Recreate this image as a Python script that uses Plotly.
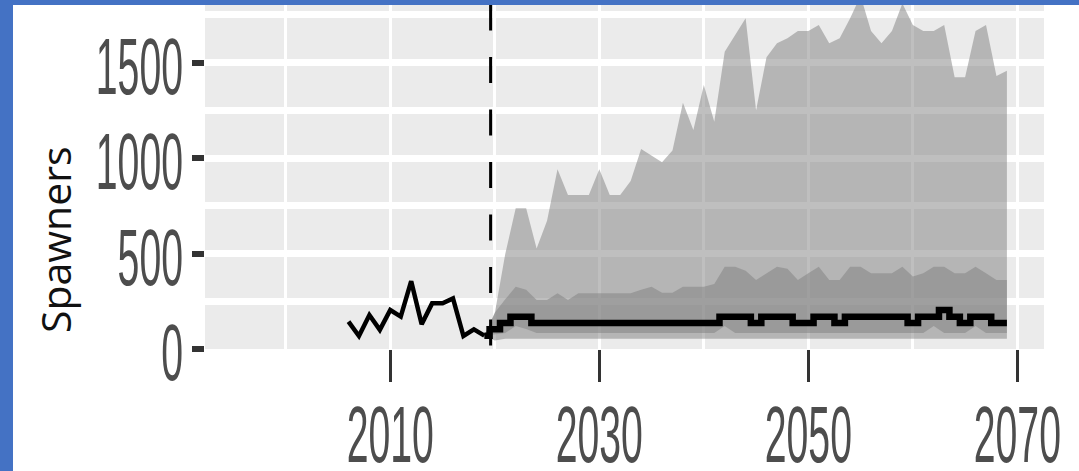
import plotly.graph_objects as go

# observed spawners
hist_years = [2006, 2007, 2008, 2009, 2010, 2011, 2012, 2013, 2014, 2015, 2016, 2017, 2018, 2019]
hist_spawners = [143, 68, 178, 100, 204, 170, 355, 130, 239, 239, 265, 68, 103, 70]

# projection (starts at last observed year)
proj_years = list(range(2019, 2070))
median = [70, 103, 136, 169, 169, 136, 136, 136, 136, 136, 136, 136, 136, 136, 136, 136, 136, 136,
          136, 136, 136, 136, 136, 169, 169, 169, 136, 169, 169, 169, 136, 136, 169, 169, 136, 169,
          169, 169, 169, 169, 169, 136, 169, 169, 204, 169, 136, 169, 169, 136, 136]
outer_hi = [70, 187, 498, 737, 737, 527, 672, 941, 807, 807, 807, 941, 807, 807, 880, 1048, 1011,
            978, 1040, 1290, 1147, 1383, 1190, 1557, 1645, 1732, 1250, 1528, 1601, 1627, 1666, 1666,
            1697, 1601, 1627, 1732, 1850, 1666, 1601, 1666, 1810, 1697, 1666, 1666, 1697, 1423, 1423,
            1666, 1697, 1430, 1458]
outer_lo = [70, 45, 54, 54, 54, 54, 54, 54, 54, 54, 54, 54, 54, 54, 54, 54, 54, 54, 54, 54, 54, 54,
            54, 54, 54, 54, 54, 54, 54, 54, 54, 54, 54, 54, 54, 54, 54, 54, 54, 54, 54, 54, 54, 54,
            54, 54, 54, 54, 54, 54, 54]
inner_hi = [70, 190, 260, 326, 310, 257, 257, 292, 257, 292, 292, 292, 292, 292, 292, 310, 326, 295,
            295, 326, 326, 326, 340, 431, 431, 410, 361, 397, 431, 420, 361, 397, 431, 361, 361, 431,
            431, 397, 397, 397, 431, 380, 397, 431, 431, 397, 397, 431, 397, 361, 361]
inner_lo = [70, 75, 84, 120, 105, 84, 84, 84, 84, 84, 84, 84, 84, 84, 84, 84, 84, 84, 84, 84, 84, 84,
            84, 120, 84, 84, 84, 84, 84, 84, 84, 84, 84, 84, 84, 84, 84, 84, 84, 84, 84, 84, 84, 120,
            84, 84, 84, 120, 84, 84, 84]

vline_year = 2019.6
x_ticks = [2010, 2030, 2050, 2070]
y_ticks = [0, 500, 1000, 1500]

W, H = 1079, 471
L, R, T, B = 205, 35, 0, 122
pw, ph = W - L - R, H - T - B


def px_x(p):
    return (p - L) / pw


def px_y(q):
    return 1 - (q - T) / ph


band = 'rgba(127,127,127,0.5)'
fig = go.Figure()

fig.add_trace(go.Scatter(x=proj_years + proj_years[::-1], y=outer_hi + outer_lo[::-1],
                         fill='toself', fillcolor=band, mode='lines', line=dict(width=0),
                         hoverinfo='skip'))
fig.add_trace(go.Scatter(x=proj_years + proj_years[::-1], y=inner_hi + inner_lo[::-1],
                         fill='toself', fillcolor=band, mode='lines', line=dict(width=0),
                         hoverinfo='skip'))
fig.add_trace(go.Scatter(x=proj_years, y=median, mode='lines',
                         line=dict(color='black', width=6.5, shape='hvh')))
fig.add_trace(go.Scatter(x=hist_years, y=hist_spawners, mode='lines',
                         line=dict(color='black', width=4.5)))

tickfont = dict(family='Liberation Sans', size=80, color='#4d4d4d')

fig.update_layout(
    width=W, height=H,
    margin=dict(l=L, r=R, t=T, b=B, autoexpand=False),
    paper_bgcolor='white',
    plot_bgcolor='#ebebeb',
    showlegend=False,
    xaxis=dict(
        range=[1992.27, 2072.55],
        tickmode='array', tickvals=x_ticks, ticktext=[str(v) for v in x_ticks],
        ticks='outside', ticklen=32, tickwidth=3, tickcolor='#333333',
        tickfont=tickfont, ticklabelstandoff=-16, ticklabeloverflow='allow',
        showgrid=True, gridcolor='white', gridwidth=3,
        minor=dict(tickmode='array', tickvals=[2000, 2020, 2040, 2060],
                   showgrid=True, gridcolor='white', gridwidth=3),
        zeroline=False, showline=False,
    ),
    yaxis=dict(
        range=[0, 1828],
        tickmode='array', tickvals=y_ticks, ticktext=[str(v) for v in y_ticks],
        ticks='outside', ticklen=12, tickwidth=6, tickcolor='#333333',
        tickfont=tickfont, ticklabelstandoff=-7, ticklabelshift=3,
        ticklabeloverflow='allow',
        showgrid=True, gridcolor='white', gridwidth=7,
        minor=dict(tickmode='array', tickvals=[250, 750, 1250, 1750],
                   showgrid=True, gridcolor='white', gridwidth=7),
        zeroline=False, showline=False,
    ),
)

# projection start marker
fig.add_shape(type='line', xref='x', yref='paper', x0=vline_year, x1=vline_year,
              y0=px_y(4.5), y1=0, line=dict(color='black', width=3, dash='26px,26.5px'),
              layer='above')

# slide frame
frame = '#4472c4'
fig.add_shape(type='rect', xref='paper', yref='paper', x0=px_x(0), x1=px_x(13),
              y0=px_y(H), y1=px_y(0), fillcolor=frame, line=dict(width=0), layer='above')
fig.add_shape(type='rect', xref='paper', yref='paper', x0=px_x(0), x1=px_x(W),
              y0=px_y(5), y1=px_y(0), fillcolor=frame, line=dict(width=0), layer='above')

fig.add_annotation(xref='paper', yref='paper', x=px_x(55), y=px_y(240), text='Spawners',
                   textangle=-90, showarrow=False, xanchor='center', yanchor='middle',
                   font=dict(family='Open Sans', size=41, color='#111111'))

# the tick labels in the source are horizontally squeezed
squeeze = """
document.body.style.margin = '0';
var gd = document.getElementById('{plot_id}');
function squeeze() {
  gd.querySelectorAll('.xtick text, .ytick text').forEach(function (t) {
    t.removeAttribute('textLength');
    var w = t.getComputedTextLength();
    t.setAttribute('textLength', (w * 0.49).toFixed(1));
    t.setAttribute('lengthAdjust', 'spacingAndGlyphs');
  });
}
squeeze();
gd.on('plotly_afterplot', squeeze);
"""

fig.write_html("out.html", post_script=squeeze, config={'displayModeBar': False})
